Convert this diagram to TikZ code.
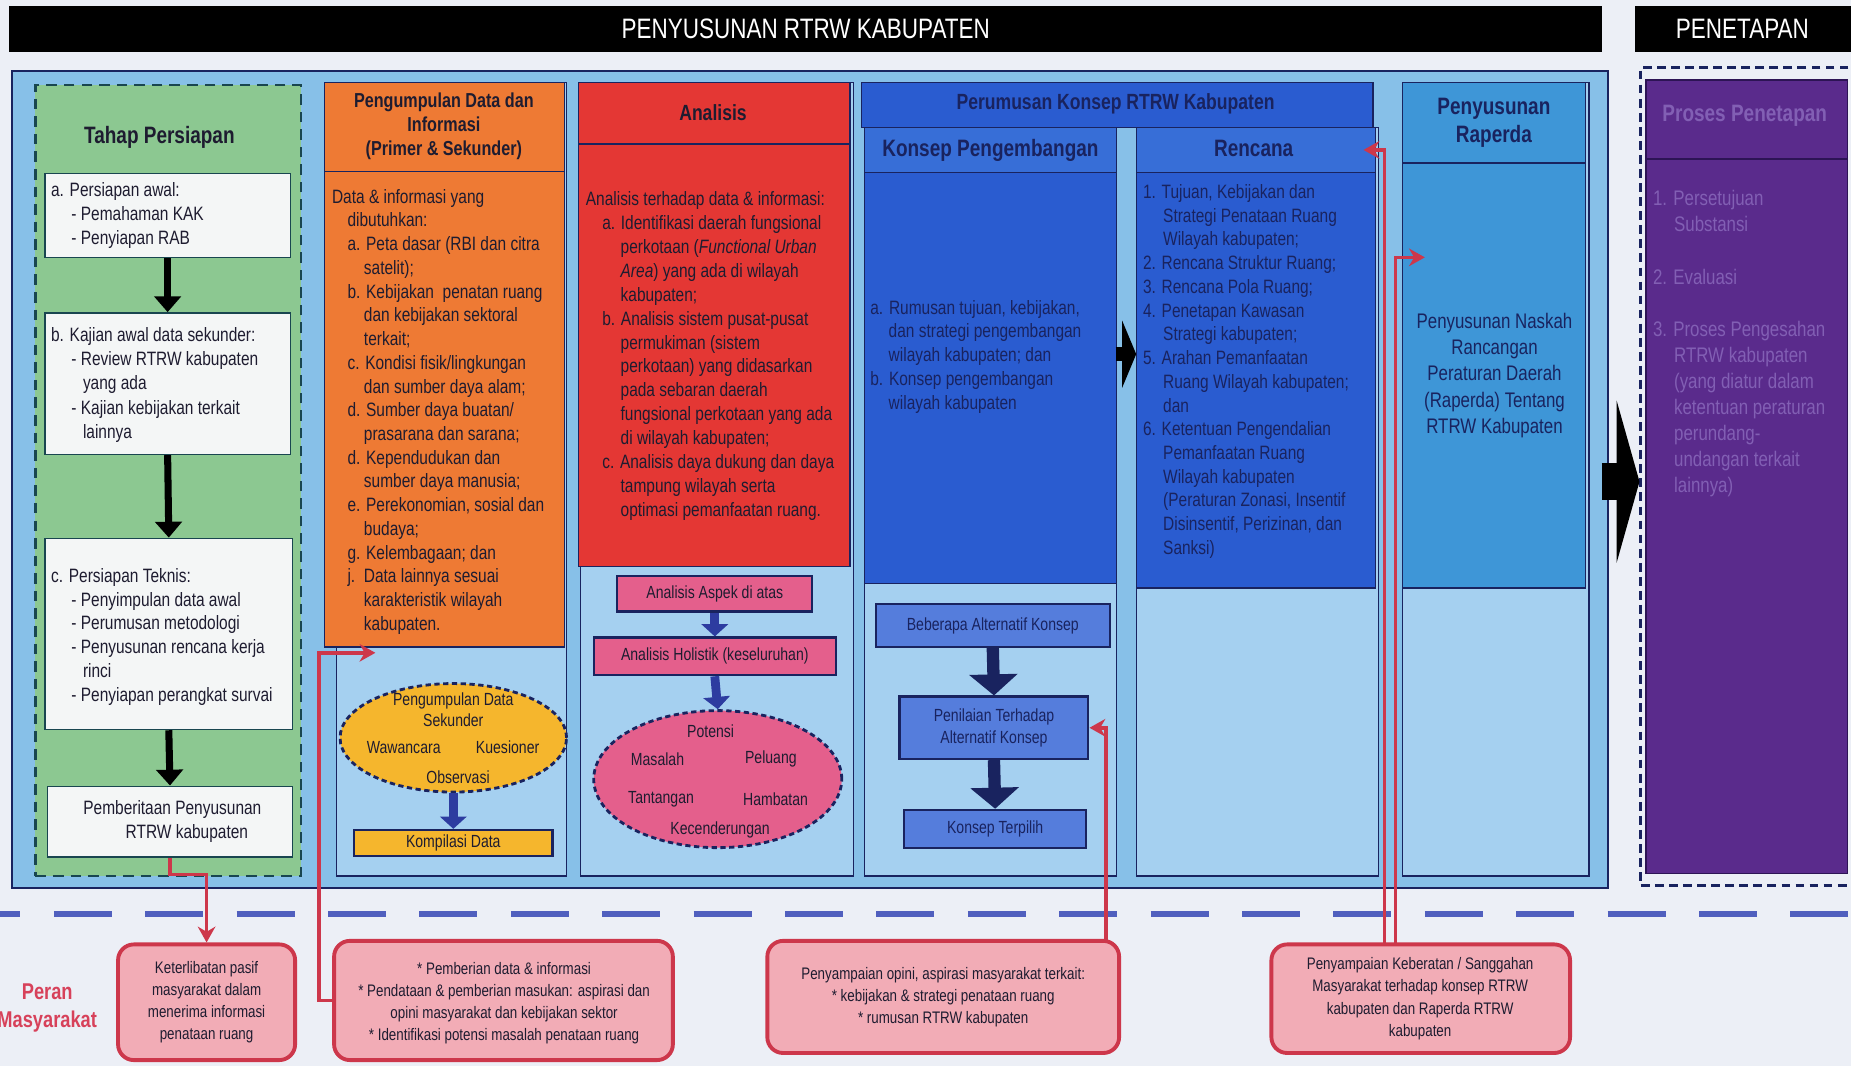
\documentclass[tikz,border=0pt]{standalone}
\usepackage{fontspec}
\setmainfont{Liberation Sans}[FakeStretch=0.8]
\usepackage{tikz}
\usetikzlibrary{arrows.meta,positioning,fit,shapes.geometric}

\definecolor{bgpale}{RGB}{236,239,246}
\definecolor{panelblue}{RGB}{135,192,232}
\definecolor{lowblue}{RGB}{165,208,240}
\definecolor{prepgreen}{RGB}{140,200,145}
\definecolor{tealdark}{RGB}{25,70,80}
\definecolor{boxwhite}{RGB}{244,246,246}
\definecolor{dataorange}{RGB}{238,122,52}
\definecolor{anared}{RGB}{228,55,52}
\definecolor{anapink}{RGB}{228,95,140}
\definecolor{dataamber}{RGB}{245,182,45}
\definecolor{konsepblue}{RGB}{42,92,208}
\definecolor{headblue}{RGB}{55,110,215}
\definecolor{altblue}{RGB}{85,125,220}
\definecolor{rapblue}{RGB}{62,150,215}
\definecolor{tetpurple}{RGB}{90,43,140}
\definecolor{darkpurple}{RGB}{45,20,85}
\definecolor{penink}{RGB}{130,95,180}
\definecolor{peranpink}{RGB}{242,172,182}
\definecolor{peranred}{RGB}{205,55,75}
\definecolor{perantext}{RGB}{215,65,90}
\definecolor{inkdark}{RGB}{30,28,48}
\definecolor{navy}{RGB}{25,35,95}
\definecolor{arrowblue}{RGB}{45,60,160}
\definecolor{dashblue}{RGB}{80,95,190}

\newcommand{\fsz}[2]{\fontsize{#1}{#2}\selectfont}

\begin{document}
\begin{tikzpicture}[x=0.02361cm, y=-0.02361cm]
\tikzstyle{area} = [inner sep=0pt, draw=navy, line width=0.7pt]
\tikzstyle{txt} = [inner sep=0pt, anchor=north west, align=left, text=inkdark, font=\fsz{11}{13.6}]
\tikzstyle{ctxt} = [inner sep=0pt, align=center, text=inkdark]
\tikzstyle{whitebox} = [inner sep=0pt, fill=boxwhite, draw=tealdark, line width=0.8pt]
\tikzstyle{blackdown} = [draw=black, line width=4pt, -{Triangle[width=15pt,length=9pt]}]
\tikzstyle{bluedown} = [draw=arrowblue, line width=5pt, -{Triangle[width=15pt,length=7pt]}]
\tikzstyle{navydown} = [draw=navy, line width=7pt, -{Triangle[width=27pt,length=12pt]}]
\tikzstyle{redlink} = [draw=peranred, line width=2pt, -{Stealth[width=10pt,length=9pt]}]
\tikzstyle{peranbox} = [inner sep=0pt, rounded corners=9pt, fill=peranpink, draw=peranred, line width=2.2pt]
\fill[bgpale] (0,0) rectangle (1568,903);
\useasboundingbox (0,0) rectangle (1568,903);

% headers
\node[fit={(8,5) (1357,44)}, fill=black, inner sep=0pt] (hdrmain) {};
\node[text=white, font=\fsz{16}{18}] (hdrmaintext) at (hdrmain) {PENYUSUNAN RTRW KABUPATEN};
\node[fit={(1385,5) (1580,44)}, fill=black, inner sep=0pt] (hdrtetap) {};
\node[text=white, font=\fsz{16}{18}] (hdrtetaptext) at (1476,24) {PENETAPAN};

% main panel
\node[fit={(10,60) (1362,752)}, area, fill=panelblue, line width=1.3pt] (panel) {};

% tahap persiapan
\node[fit={(30,72) (255,742)}, inner sep=0pt, fill=prepgreen, draw=tealdark, line width=1.3pt, dash pattern=on 6pt off 4pt] (prep) {};
\node[font=\bfseries\fsz{13.5}{16}, text=inkdark] (preptitle) at (135,116) {Tahap Persiapan};
\node[fit={(38,147) (246,218)}, whitebox] (pa) {};
\node[txt, font=\fsz{11}{13.8}] (pat) at (43,154) {a. Persiapan awal:\\\hspace*{1.05em}- Pemahaman KAK\\\hspace*{1.05em}- Penyiapan RAB};
\node[fit={(38,265) (246,385)}, whitebox] (pb) {};
\node[txt, font=\fsz{11}{13.8}] (pbt) at (43,277) {b. Kajian awal data sekunder:\\\hspace*{1.05em}- Review RTRW kabupaten\\\hspace*{1.65em}yang ada\\\hspace*{1.05em}- Kajian kebijakan terkait\\\hspace*{1.65em}lainnya};
\node[fit={(38,456) (248,618)}, whitebox] (pc) {};
\node[txt, font=\fsz{11}{13.6}] (pct) at (43,481) {c. Persiapan Teknis:\\\hspace*{1.05em}- Penyimpulan data awal\\\hspace*{1.05em}- Perumusan metodologi\\\hspace*{1.05em}- Penyusunan rencana kerja\\\hspace*{1.65em}rinci\\\hspace*{1.05em}- Penyiapan perangkat survai};
\node[fit={(40,666) (248,726)}, whitebox] (pd) {};
\node[ctxt, font=\fsz{11}{13.6}] (pdt) at (146,696) {Pemberitaan Penyusunan\\\hspace*{1.5em}RTRW kabupaten};
\draw[blackdown] (pa.south) -- (pb.north);
\draw[blackdown] (pb.south) -- (pc.north);
\draw[blackdown] (pc.south) -- (pd.north);

% pengumpulan data
\node[fit={(285,70) (480,742)}, area, fill=lowblue] (datacol) {};
\node[fit={(275,70) (478,548)}, area, fill=dataorange] (databox) {};
\draw[navy, line width=0.7pt] (275,145) -- (478,145);
\node[ctxt, font=\bfseries\fsz{11.5}{13.4}] (datatitle) at (376,107) {Pengumpulan Data dan\\Informasi\\(Primer \& Sekunder)};
\node[txt, font=\fsz{11}{13.5}] (datatext) at (281,160) {Data \& informasi yang\\
\hspace*{0.8em}dibutuhkan:\\
\hspace*{0.8em}a. Peta dasar (RBI dan citra\\
\hspace*{1.65em}satelit);\\
\hspace*{0.8em}b. Kebijakan\ \ penatan ruang\\
\hspace*{1.65em}dan kebijakan sektoral\\
\hspace*{1.65em}terkait;\\
\hspace*{0.8em}c. Kondisi fisik/lingkungan\\
\hspace*{1.65em}dan sumber daya alam;\\
\hspace*{0.8em}d. Sumber daya buatan/\\
\hspace*{1.65em}prasarana dan sarana;\\
\hspace*{0.8em}d. Kependudukan dan\\
\hspace*{1.65em}sumber daya manusia;\\
\hspace*{0.8em}e. Perekonomian, sosial dan\\
\hspace*{1.65em}budaya;\\
\hspace*{0.8em}g. Kelembagaan; dan\\
\hspace*{0.8em}j.\ \ Data lainnya sesuai\\
\hspace*{1.65em}karakteristik wilayah\\
\hspace*{1.65em}kabupaten.};
\node[ellipse, minimum width=4.53cm, minimum height=2.17cm, inner sep=0pt, fill=dataamber, draw=navy, line width=1.6pt, dash pattern=on 3pt off 2pt] (sekunder) at (384,625) {};
\node[ctxt, font=\fsz{10}{12}] (sektitle) at (384,601) {Pengumpulan Data\\Sekunder};
\node[ctxt, font=\fsz{10}{12}] (wawancara) at (342,633) {Wawancara};
\node[ctxt, font=\fsz{10}{12}] (kuesioner) at (430,633) {Kuesioner};
\node[ctxt, font=\fsz{10}{12}] (observasi) at (388,658) {Observasi};
\node[fit={(300,703) (468,725)}, inner sep=0pt, fill=dataamber, draw=navy, line width=1.2pt] (kompilasi) {};
\node[ctxt, font=\fsz{10}{12}] (kompilasitext) at (kompilasi) {Kompilasi Data};
\draw[bluedown] (sekunder.south) -- (kompilasi.north);

% analisis
\node[fit={(492,70) (723,742)}, area, fill=lowblue] (anacol) {};
\node[fit={(490,70) (720,480)}, area, fill=anared] (anabox) {};
\draw[navy, line width=0.7pt] (490,122) -- (720,122);
\node[font=\bfseries\fsz{12.5}{15}, text=inkdark] (anatitle) at (604,95) {Analisis};
\node[txt, font=\fsz{11}{13.6}] (anatext) at (496,162) {Analisis terhadap data \& informasi:\\
\hspace*{0.85em}a. Identifikasi daerah fungsional\\
\hspace*{1.8em}perkotaan (\textit{Functional Urban}\\
\hspace*{1.8em}\textit{Area}) yang ada di wilayah\\
\hspace*{1.8em}kabupaten;\\
\hspace*{0.85em}b. Analisis sistem pusat-pusat\\
\hspace*{1.8em}permukiman (sistem\\
\hspace*{1.8em}perkotaan) yang didasarkan\\
\hspace*{1.8em}pada sebaran daerah\\
\hspace*{1.8em}fungsional perkotaan yang ada\\
\hspace*{1.8em}di wilayah kabupaten;\\
\hspace*{0.85em}c. Analisis daya dukung dan daya\\
\hspace*{1.8em}tampung wilayah serta\\
\hspace*{1.8em}optimasi pemanfaatan ruang.};
\node[fit={(523,488) (688,518)}, inner sep=0pt, fill=anapink, draw=navy, line width=1.2pt] (aspek) {};
\node[ctxt, font=\fsz{10}{12}] (aspektext) at (aspek) {Analisis Aspek di atas};
\node[fit={(503,540) (708,572)}, inner sep=0pt, fill=anapink, draw=navy, line width=1.2pt] (holistik) {};
\node[ctxt, font=\fsz{10}{12}] (holistiktext) at (holistik) {Analisis Holistik (keseluruhan)};
\node[ellipse, minimum width=4.96cm, minimum height=2.74cm, inner sep=0pt, fill=anapink, draw=navy, line width=1.6pt, dash pattern=on 3pt off 2pt] (potensi) at (608,660) {};
\node[ctxt, font=\fsz{10}{12}] (potensitext) at (602,619) {Potensi};
\node[ctxt, font=\fsz{10}{12}] (masalah) at (557,643) {Masalah};
\node[ctxt, font=\fsz{10}{12}] (peluang) at (653,643) {Peluang};
\node[ctxt, font=\fsz{10}{12}] (tantangan) at (560,677) {Tantangan};
\node[ctxt, font=\fsz{10}{12}] (hambatan) at (657,677) {Hambatan};
\node[ctxt, font=\fsz{10}{12}] (kecenderungan) at (610,703) {Kecenderungan};
\draw[bluedown] (aspek.south) -- (holistik.north);
\draw[bluedown] (holistik.south) -- (potensi.north);

% perumusan konsep
\node[fit={(730,70) (1163,108)}, area, fill=konsepblue] (rumus) {};
\node[font=\bfseries\fsz{12.5}{15}, text=navy] (rumustext) at (945,88) {Perumusan Konsep RTRW Kabupaten};
\node[fit={(732,108) (946,742)}, area, fill=lowblue] (kpcol) {};
\node[fit={(732,108) (946,146)}, area, fill=headblue] (kphead) {};
\node[font=\bfseries\fsz{13.5}{16}, text=navy] (kpheadtext) at (kphead) {Konsep Pengembangan};
\node[fit={(732,146) (946,494)}, area, fill=konsepblue] (kpbody) {};
\node[txt, font=\fsz{11}{13.5}, text=navy] (kptext) at (737,254) {a. Rumusan tujuan, kebijakan,\\
\hspace*{0.95em}dan strategi pengembangan\\
\hspace*{0.95em}wilayah kabupaten; dan\\
b. Konsep pengembangan\\
\hspace*{0.95em}wilayah kabupaten};
\node[fit={(742,512) (940,548)}, inner sep=0pt, fill=altblue, draw=navy, line width=1.2pt] (alt) {};
\node[ctxt, font=\fsz{10}{12}, text=navy] (alttext) at (alt) {Beberapa Alternatif Konsep};
\node[fit={(762,590) (922,643)}, inner sep=0pt, fill=altblue, draw=navy, line width=1.2pt] (nilai) {};
\node[ctxt, font=\fsz{10}{12.5}, text=navy] (nilaitext) at (nilai) {Penilaian Terhadap\\Alternatif Konsep};
\node[fit={(766,686) (920,718)}, inner sep=0pt, fill=altblue, draw=navy, line width=1.2pt] (pilih) {};
\node[ctxt, font=\fsz{10}{12}, text=navy] (pilihtext) at (pilih) {Konsep Terpilih};
\draw[navydown] (alt.south) -- (nilai.north);
\draw[navydown] (nilai.south) -- (pilih.north);

% rencana
\node[fit={(963,108) (1168,742)}, area, fill=lowblue] (rccol) {};
\node[fit={(963,108) (1165,146)}, area, fill=headblue] (rchead) {};
\node[font=\bfseries\fsz{13.5}{16}, text=navy] (rcheadtext) at (1062,126) {Rencana};
\node[fit={(963,146) (1165,498)}, area, fill=konsepblue] (rcbody) {};
\node[txt, font=\fsz{11}{13.5}, text=navy] (rctext) at (968,156) {1. Tujuan, Kebijakan dan\\
\hspace*{1.04em}Strategi Penataan Ruang\\
\hspace*{1.04em}Wilayah kabupaten;\\
2. Rencana Struktur Ruang;\\
3. Rencana Pola Ruang;\\
4. Penetapan Kawasan\\
\hspace*{1.04em}Strategi kabupaten;\\
5. Arahan Pemanfaatan\\
\hspace*{1.04em}Ruang Wilayah kabupaten;\\
\hspace*{1.04em}dan\\
6. Ketentuan Pengendalian\\
\hspace*{1.04em}Pemanfaatan Ruang\\
\hspace*{1.04em}Wilayah kabupaten\\
\hspace*{1.04em}(Peraturan Zonasi, Insentif\\
\hspace*{1.04em}Disinsentif, Perizinan, dan\\
\hspace*{1.04em}Sanksi)};
\coordinate (kparrow) at (945,300);
\draw[draw=black, line width=8pt, -{Triangle[width=38pt,length=8pt]}] (kparrow) -- (kparrow -| rcbody.west);

% raperda
\node[fit={(1188,70) (1346,742)}, area, fill=lowblue] (rapcol) {};
\node[fit={(1188,70) (1343,138)}, area, fill=rapblue] (raphead) {};
\node[ctxt, font=\bfseries\fsz{13.5}{16}, text=navy] (rapheadtext) at (raphead) {Penyusunan\\Raperda};
\node[fit={(1188,138) (1343,498)}, area, fill=rapblue] (rapbody) {};
\node[ctxt, font=\fsz{12}{14.9}, text=navy] (raptext) at (1266,318) {Penyusunan Naskah\\Rancangan\\Peraturan Daerah\\(Raperda) Tentang\\RTRW Kabupaten};

% penetapan
\node[fit={(1390,57) (1590,750)}, inner sep=0pt, fill=bgpale, draw=navy, line width=1.6pt, dash pattern=on 5pt off 3pt] (tetap) {};
\node[fit={(1394,68) (1565,740)}, inner sep=0pt, fill=tetpurple, draw=darkpurple, line width=1pt] (tetapbox) {};
\draw[darkpurple, line width=1.2pt] (1394,135) -- (1565,135);
\node[font=\bfseries\fsz{13.5}{16}, text=penink] (tetaptitle) at (1478,98) {Proses Penetapan};
\node[txt, font=\fsz{12}{14.8}, text=penink] (tetaptext) at (1400,161) {1. Persetujuan\\
\hspace*{1em}Substansi\\[15pt]
2. Evaluasi\\[15pt]
3. Proses Pengesahan\\
\hspace*{1em}RTRW kabupaten\\
\hspace*{1em}(yang diatur dalam\\
\hspace*{1em}ketentuan peraturan\\
\hspace*{1em}perundang-\\
\hspace*{1em}undangan terkait\\
\hspace*{1em}lainnya)};
\coordinate (bigtail) at (1357,408);
\draw[draw=black, line width=21pt, -{Triangle[width=92pt,length=13pt]}] (bigtail) -- (bigtail -| tetap.west);

% peran masyarakat
\draw[dashblue, line width=3.4pt, dash pattern=on 33pt off 19pt, dash phase=18pt] (-5,774) -- (1580,774);
\node[ctxt, font=\bfseries\fsz{13}{16}, text=perantext] (peran) at (40,854) {Peran\\Masyarakat};
\node[fit={(100,800) (250,898)}, peranbox] (peran1) {};
\node[ctxt, font=\fsz{9.5}{12.6}] (peran1text) at (peran1) {Keterlibatan pasif\\masyarakat dalam\\menerima informasi\\penataan ruang};
\node[fit={(283,797) (570,898)}, peranbox] (peran2) {};
\node[ctxt, font=\fsz{9.5}{12.6}] (peran2text) at (427,850) {* Pemberian data \& informasi\\* Pendataan \& pemberian masukan: aspirasi dan\\opini masyarakat dan kebijakan sektor\\* Identifikasi potensi masalah penataan ruang};
\node[fit={(650,797) (948,892)}, peranbox] (peran3) {};
\node[ctxt, font=\fsz{9.5}{12.6}] (peran3text) at (799,845) {Penyampaian opini, aspirasi masyarakat terkait:\\* kebijakan \& strategi penataan ruang\\* rumusan RTRW kabupaten};
\node[fit={(1077,800) (1330,892)}, peranbox] (peran4) {};
\node[ctxt, font=\fsz{9.5}{12.6}] (peran4text) at (1203,846) {Penyampaian Keberatan / Sanggahan\\Masyarakat terhadap konsep RTRW\\kabupaten dan Raperda RTRW\\kabupaten};

% red links
\coordinate (datain) at (318,553);
\coordinate (p3up) at (937,797);
\coordinate (p4a) at (1173,800);
\coordinate (p4b) at (1182,800);
\coordinate (rcin) at (1155,127);
\coordinate (rapin) at (1207,218);
\draw[redlink] (pd.south) -- ++(0,14) -| (peran1.north);
\draw[redlink] (peran2.west) -- ++(-11,0) |- (datain);
\draw[redlink] (p3up) |- (nilai.east);
\draw[redlink] (p4a) |- (rcin);
\draw[redlink] (p4b) |- (rapin);
\end{tikzpicture}
\end{document}
